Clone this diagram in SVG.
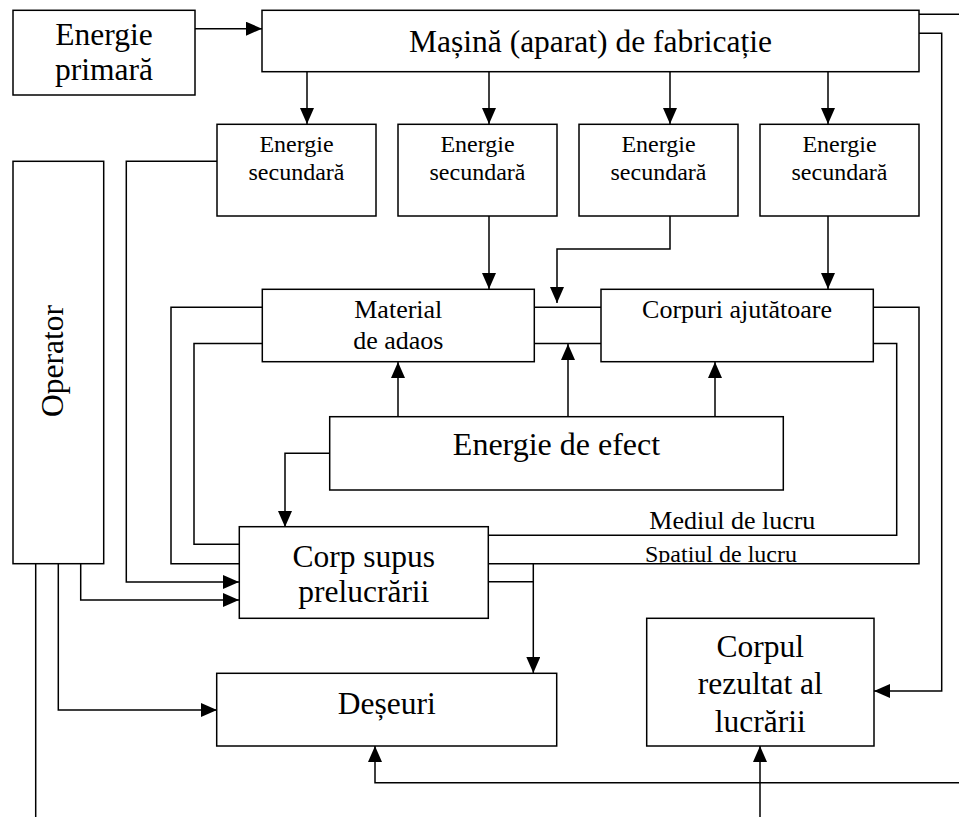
<svg xmlns="http://www.w3.org/2000/svg" width="959" height="817" viewBox="0 0 959 817">
  <style>
    .box { fill: #ffffff; stroke: #000000; stroke-width: 1.5; }
    .wire { fill: none; stroke: #000000; stroke-width: 1.5; }
    .arr { marker-end: url(#head); }
    text { font-family: "Liberation Serif", "Times New Roman", serif; fill: #000000; }
    .big { font-size: 31.5px; text-anchor: middle; }
    .mid { font-size: 26px; text-anchor: middle; }
    .sm { font-size: 24px; text-anchor: middle; }
  </style>
  <defs>
    <marker id="head" viewBox="0 0 16 14" refX="16" refY="7" markerWidth="16" markerHeight="14" markerUnits="userSpaceOnUse" orient="auto">
      <path d="M0,0 L16,7 L0,14 Z" fill="#000000"/>
    </marker>
    <clipPath id="spaceClip">
      <rect x="600" y="530" width="300" height="32.5"/>
    </clipPath>
  </defs>
  <rect width="959" height="817" fill="#ffffff"/>

  <!-- connectors -->
  <g id="connectors">
    <path class="wire arr" d="M195,28.7 H262"/>
    <path class="wire arr" d="M307,72 V124"/>
    <path class="wire arr" d="M489,72 V124"/>
    <path class="wire arr" d="M670,72 V124"/>
    <path class="wire arr" d="M828,72 V124"/>
    <path class="wire arr" d="M489,216 V289"/>
    <path class="wire arr" d="M670,216 V249 H557 V303"/>
    <path class="wire arr" d="M828,216 V289"/>
    <path class="wire" d="M534,307.3 H601"/>
    <path class="wire" d="M534,343.5 H601"/>
    <path class="wire arr" d="M398,417 V362"/>
    <path class="wire arr" d="M568,417 V344"/>
    <path class="wire arr" d="M715,417 V362"/>
    <path class="wire arr" d="M330,453.3 H285 V527"/>
    <path class="wire" d="M262,307.3 H171 V563.7 H239"/>
    <path class="wire" d="M262,343.5 H194 V544.3 H239"/>
    <path class="wire arr" d="M217,161.3 H126.3 V582 H239"/>
    <path class="wire arr" d="M80.7,564 V600 H239"/>
    <path class="wire arr" d="M58.3,564 V710 H217"/>
    <path class="wire" d="M35.7,564 V817"/>
    <path class="wire" d="M488,535.3 H896.7 V343.5 H873.5"/>
    <path class="wire" d="M488,563.7 H919 V307.3 H873.5"/>
    <path class="wire" d="M488,581.7 H533.3"/>
    <path class="wire arr" d="M533.3,563.7 V673"/>
    <path class="wire" d="M919,14.3 H959"/>
    <path class="wire arr" d="M919,33.3 H941.7 V691 H874"/>
    <path class="wire arr" d="M959,782.7 H375 V746"/>
    <path class="wire arr" d="M760,817 V746"/>
  </g>

  <g id="energie-primara">
    <rect class="box" x="13" y="10.3" width="182" height="84.7"/>
    <text class="big" x="104" y="45">Energie</text>
    <text class="big" x="104" y="80">primară</text>
  </g>

  <g id="masina">
    <rect class="box" x="262" y="10.3" width="657" height="61.4"/>
    <text class="big" x="590.5" y="51.7">Mașină (aparat) de fabricație</text>
  </g>

  <g id="energie-secundara-1">
    <rect class="box" x="217" y="124.3" width="159" height="91.7"/>
    <text class="sm" x="296.5" y="151.7">Energie</text>
    <text class="sm" x="296.5" y="180">secundară</text>
  </g>
  <g id="energie-secundara-2">
    <rect class="box" x="398" y="124.3" width="159" height="91.7"/>
    <text class="sm" x="477.5" y="151.7">Energie</text>
    <text class="sm" x="477.5" y="180">secundară</text>
  </g>
  <g id="energie-secundara-3">
    <rect class="box" x="579" y="124.3" width="159" height="91.7"/>
    <text class="sm" x="658.5" y="151.7">Energie</text>
    <text class="sm" x="658.5" y="180">secundară</text>
  </g>
  <g id="energie-secundara-4">
    <rect class="box" x="760" y="124.3" width="159" height="91.7"/>
    <text class="sm" x="839.5" y="151.7">Energie</text>
    <text class="sm" x="839.5" y="180">secundară</text>
  </g>

  <g id="operator">
    <rect class="box" x="13" y="161.3" width="90.7" height="402.4"/>
    <text class="big" transform="translate(63.3,361) rotate(-90)">Operator</text>
  </g>

  <g id="material-adaos">
    <rect class="box" x="262.3" y="289.3" width="272" height="72.4"/>
    <text class="mid" x="398.3" y="318.3">Material</text>
    <text class="mid" x="398.3" y="349.3">de adaos</text>
  </g>

  <g id="corpuri-ajutatoare">
    <rect class="box" x="601" y="289.3" width="272.3" height="72.4"/>
    <text class="mid" x="737" y="318.3">Corpuri ajutătoare</text>
  </g>

  <g id="energie-efect">
    <rect class="box" x="329.7" y="416.7" width="453.6" height="73.3"/>
    <text class="big" x="556.5" y="455" style="font-size:32px">Energie de efect</text>
  </g>

  <g id="mediu-spatiu">
    <text x="649.3" y="529.3" style="font-size:26px">Mediul de lucru</text>
    <text x="645" y="562" style="font-size:24px" clip-path="url(#spaceClip)">Spațiul de lucru</text>
  </g>

  <g id="corp-supus">
    <rect class="box" x="239.3" y="526.7" width="249" height="91.6"/>
    <text class="big" x="363.8" y="566.7">Corp supus</text>
    <text class="big" x="363.8" y="601.7">prelucrării</text>
  </g>

  <g id="deseuri">
    <rect class="box" x="216.7" y="673.3" width="340" height="72.7"/>
    <text class="big" x="386.7" y="714">Deșeuri</text>
  </g>

  <g id="corpul-rezultat">
    <rect class="box" x="646.7" y="618.3" width="227.3" height="127.7"/>
    <text class="big" x="760.3" y="657">Corpul</text>
    <text class="big" x="760.3" y="694">rezultat al</text>
    <text class="big" x="760.3" y="732">lucrării</text>
  </g>
</svg>
